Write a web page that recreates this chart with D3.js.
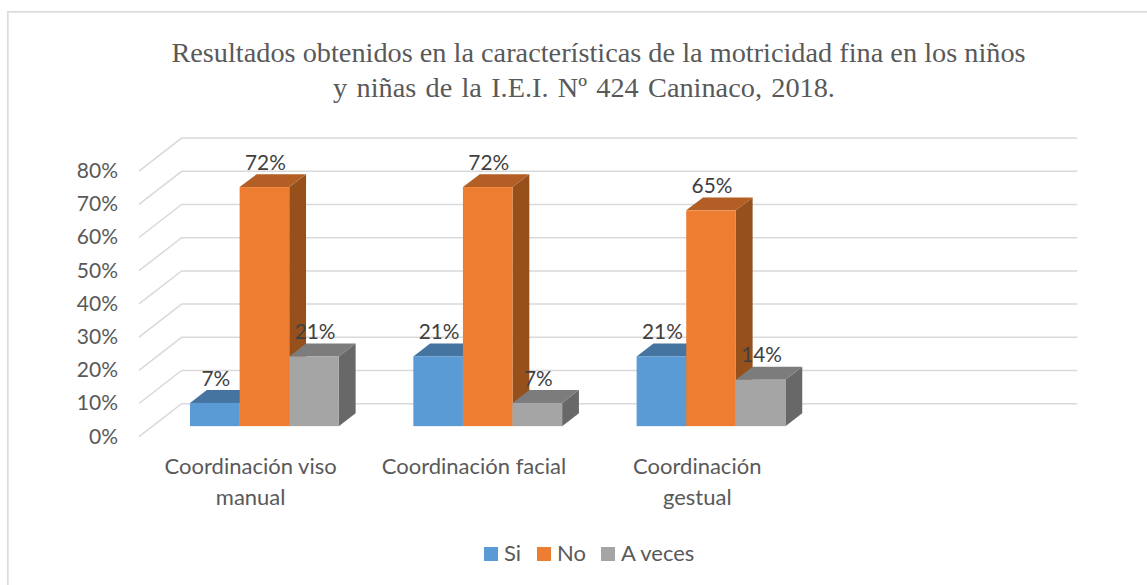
<!DOCTYPE html>
<meta charset="utf-8">
<style>
html, body { margin: 0; padding: 0; background: #fff; }
svg { display: block; }
.cat, .tick text, .legend text { font-family: Lato, sans-serif; fill: #595959; }
.value { font-family: Lato, sans-serif; fill: #404040; font-size: 20.8px; text-anchor: middle; }
.title { font-family: "Liberation Serif", serif; fill: #595959; font-size: 28.3px; text-anchor: middle; }
</style>
<svg width="1147" height="585"></svg>
<script src="https://d3js.org/d3.v7.min.js"></script>
<script>

var titleLines = ["Resultados obtenidos en la características de la motricidad fina en los niños",
                  "y niñas de la I.E.I. Nº 424 Caninaco, 2018."];

// fourth slot is empty in the original chart, it only holds space
var categories = ["Coordinación viso manual", "Coordinación facial", "Coordinación gestual", ""];
var catLines = [["Coordinación viso", "manual"], ["Coordinación facial"], ["Coordinación", "gestual"], []];
var series = ["Si", "No", "A veces"];
var si = [7, 21, 21];
var no = [72, 72, 65];
var aVeces = [21, 7, 14];
var yTicks = [0, 10, 20, 30, 40, 50, 60, 70, 80];

var colors = { "Si": ["#5b9bd5", "#44749f", "#396185"],
               "No": ["#ed7d31", "#b25e25", "#95501b"],
               "A veces": ["#a5a5a5", "#7c7c7c", "#686868"] };

var svg = d3.select("svg");

// chart frame, only left and top are inside the picture
svg.append("path")
    .attr("d", "M7.8,585V11.8H1147")
    .attr("fill", "none")
    .attr("stroke", "#dcdcdc")
    .attr("stroke-width", 1.8);

// second line sits off centre in the original, with wider word gaps
svg.selectAll("text.title")
    .data(titleLines)
    .enter().append("text")
    .attr("class", "title")
    .attr("x", function(d, i) { return i ? 584 : 598.5; })
    .attr("y", function(d, i) { return 62 + i * 35; })
    .style("word-spacing", function(d, i) { return i ? "2.2px" : null; })
    .text(function(d) { return d; });

// front plane of the box, plus depth of the walls
var left = 139, plotW = 895.6, zeroY = 436.7;
var wallDx = 42.6, wallDy = -33;
// the bars stand inside the box
var barFront = 0.32, barDx = 16.8, barDy = -12.8;

var y = d3.scaleLinear().domain([0, 80]).range([0, -265.6]);
var x0 = d3.scaleBand().domain(categories).range([left, left + 893.2]);
var x1 = d3.scaleBand().domain(series).range([37.4, 186.2]);

// walls
var grid = svg.append("g").attr("fill", "none").attr("stroke", "#d9d9d9").attr("stroke-width", 1.5);
grid.selectAll("path")
    .data(yTicks)
    .enter().append("path")
    .attr("d", function(d) {
      var yy = zeroY + y(d);
      return "M" + left + "," + yy + "l" + wallDx + "," + wallDy + "h" + plotW;
    });

// y axis, drawn with d3 then stripped of its line and ticks
var yScreen = d3.scaleLinear().domain([0, 80]).range([zeroY, zeroY - 265.6]);
var yAxis = svg.append("g")
    .attr("transform", "translate(123,0)")
    .call(d3.axisLeft(yScreen).tickValues(yTicks).tickSize(0).tickPadding(5).tickFormat(function(d) { return d + "%"; }));
yAxis.select(".domain").remove();
yAxis.selectAll("text").attr("font-size", null).style("font-size", "21px").attr("dy", "0.3em");
yAxis.attr("font-family", null);

var rows = [si, no, aVeces];
var baseY = zeroY + barFront * wallDy;

categories.slice(0, 3).forEach(function(cat, c) {
  var g = svg.append("g").attr("transform", "translate(" + (x0(cat) + barFront * wallDx) + "," + baseY + ")");

  series.forEach(function(s, i) {
    var v = rows[i][c];
    var bx = x1(s), bw = x1.bandwidth(), by = y(v);

    g.append("path")   // right side
        .attr("fill", colors[s][2])
        .attr("d", "M" + (bx + bw) + ",0V" + by + "l" + barDx + "," + barDy + "V" + barDy + "Z");
    g.append("path")   // top
        .attr("fill", colors[s][1])
        .attr("d", "M" + bx + "," + by + "h" + bw + "l" + barDx + "," + barDy + "h" + (-bw) + "Z");
    g.append("rect")   // front
        .attr("fill", colors[s][0])
        .attr("x", bx).attr("y", by)
        .attr("width", bw).attr("height", -by);
  });

  // labels go last so the next bar never hides them
  series.forEach(function(s, i) {
    var v = rows[i][c];
    g.append("text")
        .attr("class", "value")
        .attr("x", x1(s) + x1.bandwidth() / 2 + 1)
        .attr("y", y(v) + barDy - 4.5)
        .text(v + "%");
  });
});

// category labels
categories.forEach(function(cat, c) {
  svg.selectAll(null)
      .data(catLines[c])
      .enter().append("text")
      .attr("class", "cat")
      .attr("text-anchor", "middle")
      .attr("font-size", 22)
      .attr("x", x0(cat) + x0.bandwidth() / 2)
      .attr("y", function(d, i) { return 474 + i * 31; })
      .text(function(d) { return d; });
});

// legend
var legendX = [484, 537, 601];
var legend = svg.append("g").attr("class", "legend");
series.forEach(function(s, i) {
  legend.append("rect")
      .attr("x", legendX[i]).attr("y", 547)
      .attr("width", 14).attr("height", 14)
      .attr("fill", colors[s][0]);
  legend.append("text")
      .attr("x", legendX[i] + 20).attr("y", 561)
      .attr("font-size", 22)
      .text(s);
});

</script>
